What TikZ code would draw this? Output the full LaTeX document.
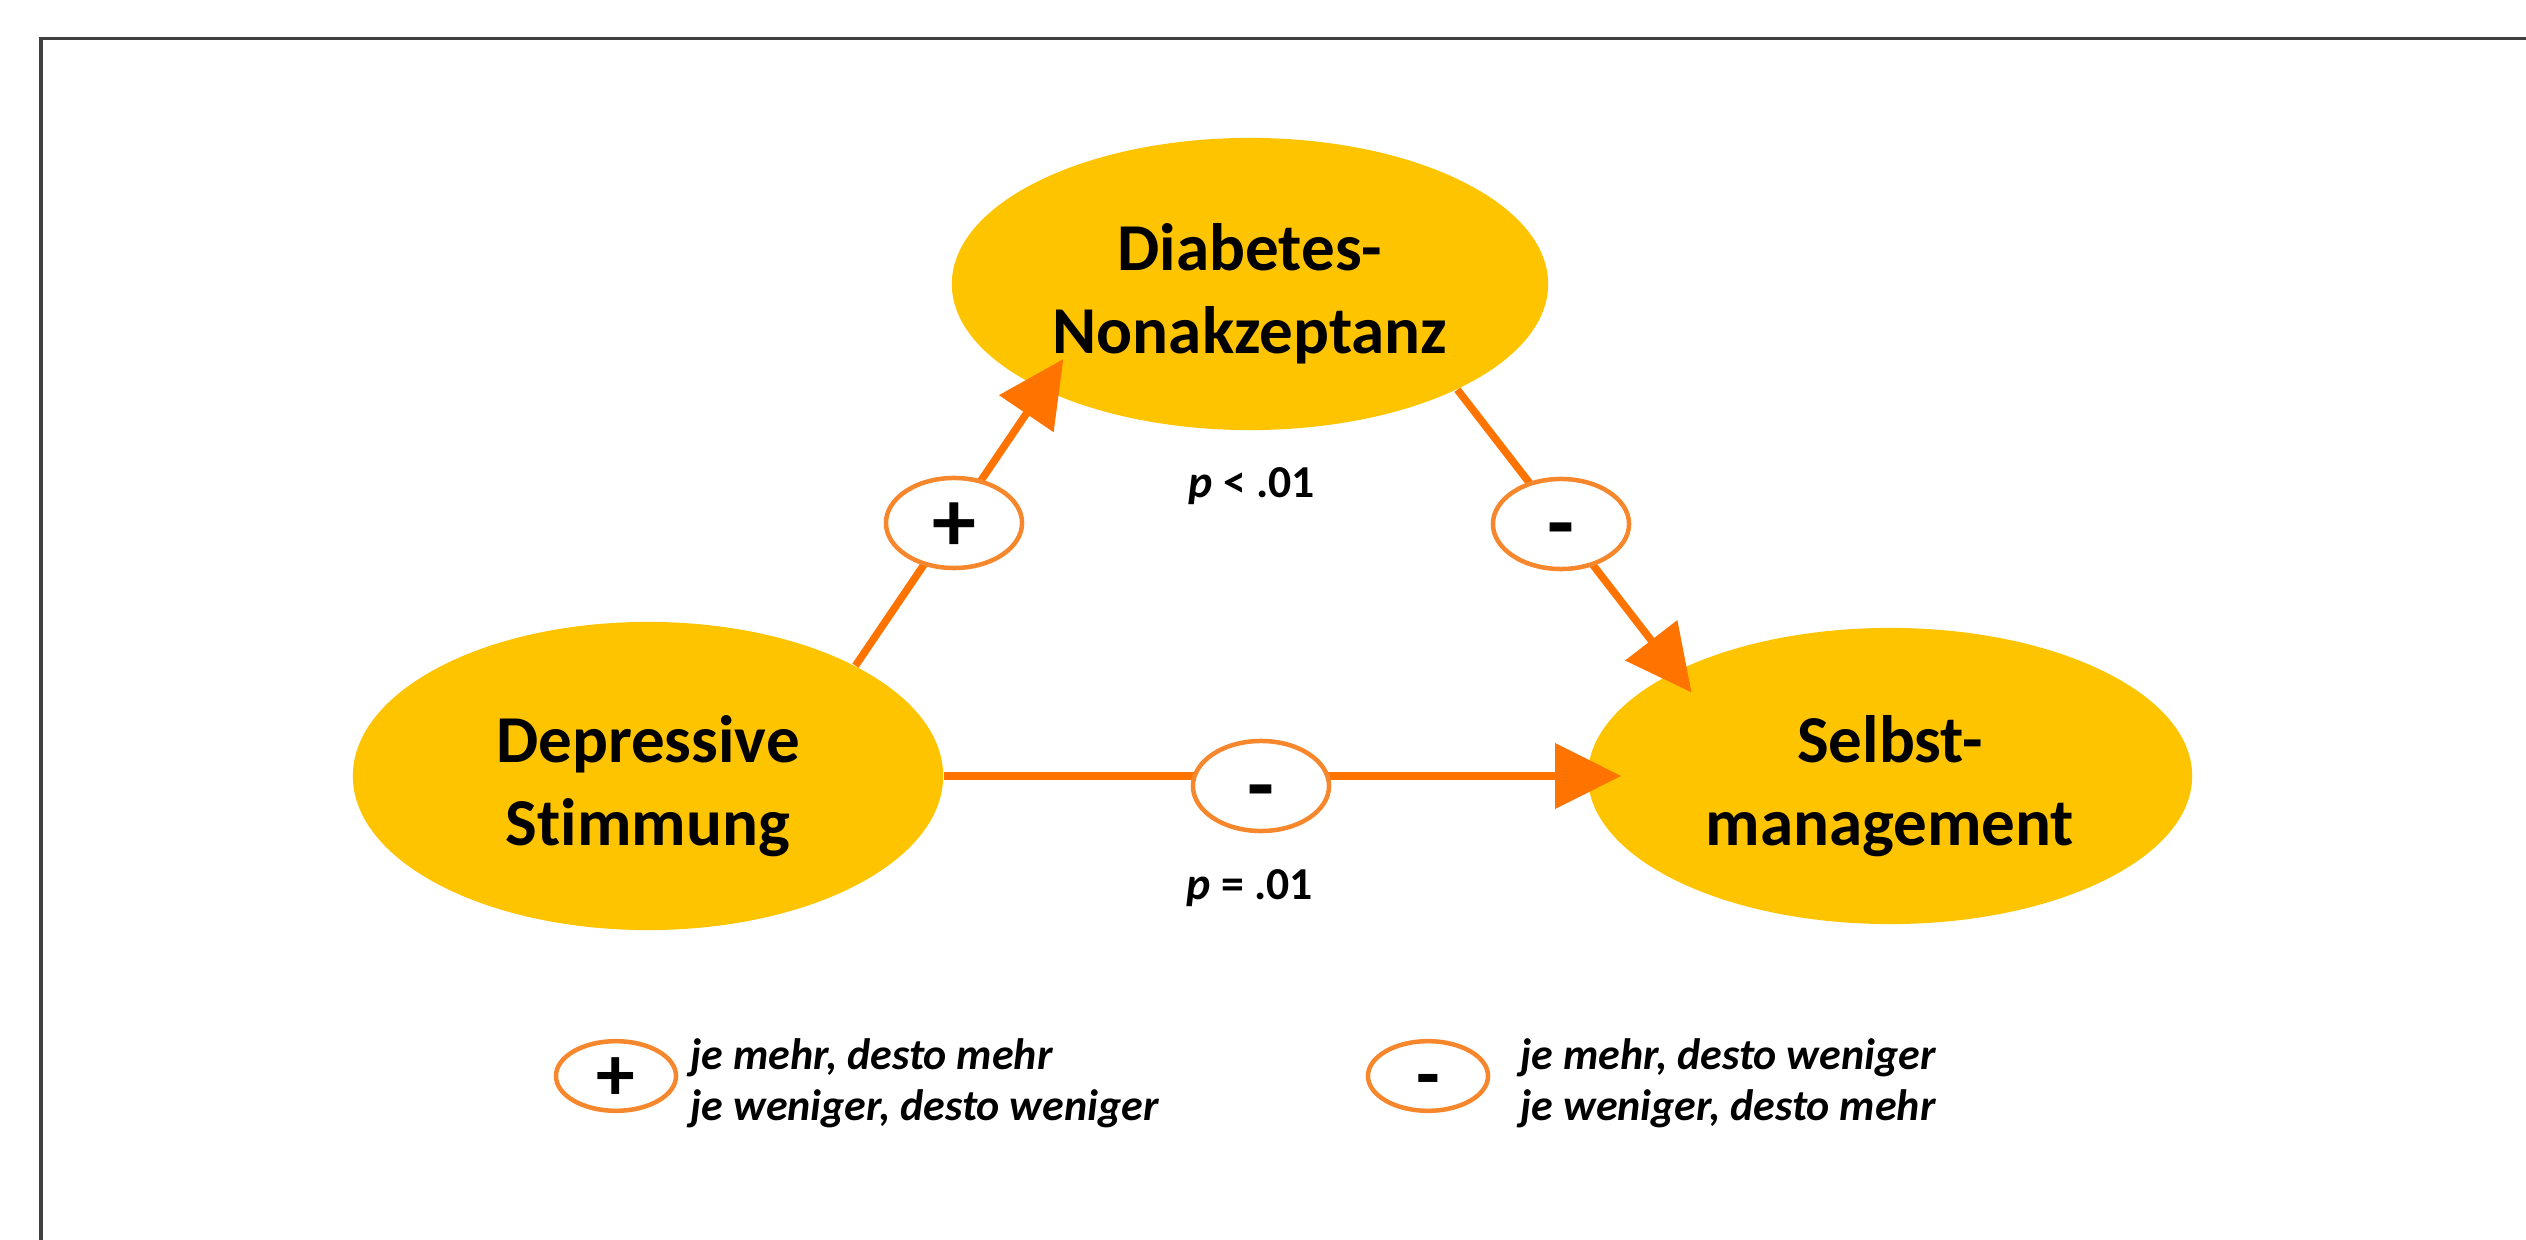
\documentclass[tikz,border=0pt]{standalone}
\usepackage{fontspec}
\setmainfont[Ligatures=NoCommon]{Carlito}
\usetikzlibrary{shapes.geometric,arrows.meta}
\definecolor{nodeyellow}{RGB}{255,196,0}
\definecolor{arroworange}{RGB}{255,115,0}
\definecolor{ringorange}{RGB}{247,135,45}
\definecolor{framegray}{RGB}{64,64,64}
\begin{document}
\begin{tikzpicture}[x=0.01cm,y=-0.01cm,
  bignode/.style={ellipse, fill=nodeyellow, inner sep=0pt},
  bigtext/.style={inner sep=0pt, align=center,
    font=\fontsize{19.06}{23.6}\selectfont\bfseries},
  arr/.style={draw=arroworange, line width=0.075cm,
    -{Triangle[length=0.66cm,width=0.64cm]}},
  signnode/.style={ellipse, draw=ringorange, line width=0.045cm, fill=white,
    minimum width=1.36cm, minimum height=0.9cm, inner sep=0pt,
    font=\fontsize{25}{30}\selectfont\bfseries, text height=16pt, text depth=0pt},
  legsign/.style={ellipse, draw=ringorange, line width=0.045cm, fill=white,
    minimum width=1.2cm, minimum height=0.68cm, inner sep=0pt,
    font=\fontsize{22}{26}\selectfont\bfseries, text height=14pt, text depth=0pt},
  legtext/.style={inner sep=0pt, align=left, anchor=west,
    font=\fontsize{12.5}{14.6}\selectfont\bfseries\itshape},
  pval/.style={inner sep=0pt, font=\fontsize{13}{15.5}\selectfont\bfseries}
]
\useasboundingbox (0,0) rectangle (2526,1240);
% frame
\draw[framegray, line width=0.03cm] (41,1240) -- (41,39) -- (2526,39);

% main nodes
\node[bignode, minimum width=5.96cm, minimum height=2.92cm] (dia) at (1250,284) {};
\node[bignode, minimum width=5.90cm, minimum height=3.08cm] (dep) at (648,776) {};
\node[bignode, minimum width=6.04cm, minimum height=2.96cm] (sel) at (1890,776) {};
\node[bigtext] (diat) at ([yshift=-0.1cm]dia.center) {Diabetes-\\Nonakzeptanz};
\node[bigtext] (dept) at ([yshift=-0.1cm]dep.center) {Depressive\\Stimmung};
\node[bigtext] (selt) at ([yshift=-0.1cm]sel.center) {Selbst-\\management};

% connectors
\draw[arr, shorten >=-0.37cm] (dep.28) -- (dia.207);
\draw[arr, shorten >=-0.27cm] (dia.333) -- (sel.154);
\draw[arr, shorten >=-0.34cm] (dep.0) -- (sel.180);

% signs on connectors
\node[signnode] (s1) at (954,523) {+};
\node[signnode] (s2) at (1561,524) {-};
\node[signnode] (s3) at (1261,786) {-};

% p values
\node[pval] (p1) at (1252,486) {\textit{p} < .01};
\node[pval] (p2) at (1250,888) {\textit{p} = .01};

% legend
\node[legsign] (lp) at (616,1076) {+};
\node[legtext] (lpt) at (690,1083) {je mehr, desto mehr\\je weniger, desto weniger};
\node[legsign] (lm) at (1428,1076) {-};
\node[legtext] (lmt) at (1520,1083) {je mehr, desto weniger\\je weniger, desto mehr};
\end{tikzpicture}
\end{document}
